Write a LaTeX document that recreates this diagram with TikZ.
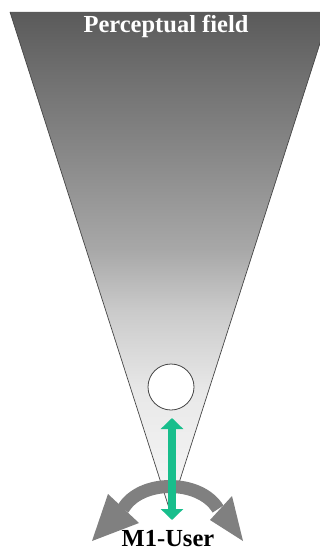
\documentclass[tikz,border=0pt]{standalone}
\usepackage{fontspec}
\setmainfont{Liberation Serif}
\usetikzlibrary{arrows.meta}
\definecolor{arcgray}{RGB}{128,128,128}
\definecolor{edgegray}{RGB}{70,70,70}
\definecolor{teal}{RGB}{24,190,140}
\tikzset{
  bigtxt/.style={font=\fontsize{24.5}{28}\selectfont\bfseries, inner sep=0pt, anchor=base},
  edge/.style={draw=edgegray, line width=0.7pt},
}
\begin{document}
\begin{tikzpicture}[x=1pt,y=-1pt]
\useasboundingbox (0,0) rectangle (320,551);
\coordinate (tl) at (10,12);
\coordinate (tr) at (330,12);
\coordinate (apex) at (170,511);
% shaded field
\begin{scope}
\clip (0,0) rectangle (320,551);
\begin{scope}
\clip (tl) -- (tr) -- (apex) -- cycle;
\shade[top color={rgb,255:red,90;green,90;blue,90}, bottom color={rgb,255:red,110;green,110;blue,110}] (0,11) rectangle (340,70.5);
\shade[top color={rgb,255:red,110;green,110;blue,110}, bottom color={rgb,255:red,138;green,138;blue,138}] (0,70) rectangle (340,160.5);
\shade[top color={rgb,255:red,138;green,138;blue,138}, bottom color={rgb,255:red,168;green,168;blue,168}] (0,160) rectangle (340,250.5);
\shade[top color={rgb,255:red,168;green,168;blue,168}, bottom color={rgb,255:red,202;green,202;blue,202}] (0,250) rectangle (340,310.5);
\shade[top color={rgb,255:red,202;green,202;blue,202}, bottom color={rgb,255:red,232;green,232;blue,232}] (0,310) rectangle (340,390.5);
\shade[top color={rgb,255:red,232;green,232;blue,232}, bottom color={rgb,255:red,248;green,248;blue,248}] (0,390) rectangle (340,512);
\end{scope}
\draw[edge] (tl) -- (apex) -- (tr);
\end{scope}
% object circle
\node[circle, draw=edgegray, line width=0.8pt, fill=white, minimum size=46pt, inner sep=0pt] (obj) at (171,387) {};
% gray curved arrow
\coordinate (la) at (123,509);
\coordinate (ra) at (218,509);
\draw[arcgray, line width=13pt] (la) .. controls (140,479) and (200,479) .. (ra);
\fill[arcgray] (108,494) -- (139,523) -- (92,541) -- cycle;
\fill[arcgray] (232,496) -- (210,520) -- (243,541) -- cycle;
% green double arrow
\coordinate (gt) at (172,418);
\coordinate (gb) at (172,520);
\draw[teal, line width=8.5pt, {Triangle[width=22pt,length=11pt]}-{Triangle[width=22pt,length=11pt]}] (gt) -- (gb);
% labels
\node[bigtxt, text=white] (pf) at (166,33) {Perceptual field};
\node[bigtxt, text=black] (user) at (168,546) {M1-User};
\end{tikzpicture}
\end{document}
